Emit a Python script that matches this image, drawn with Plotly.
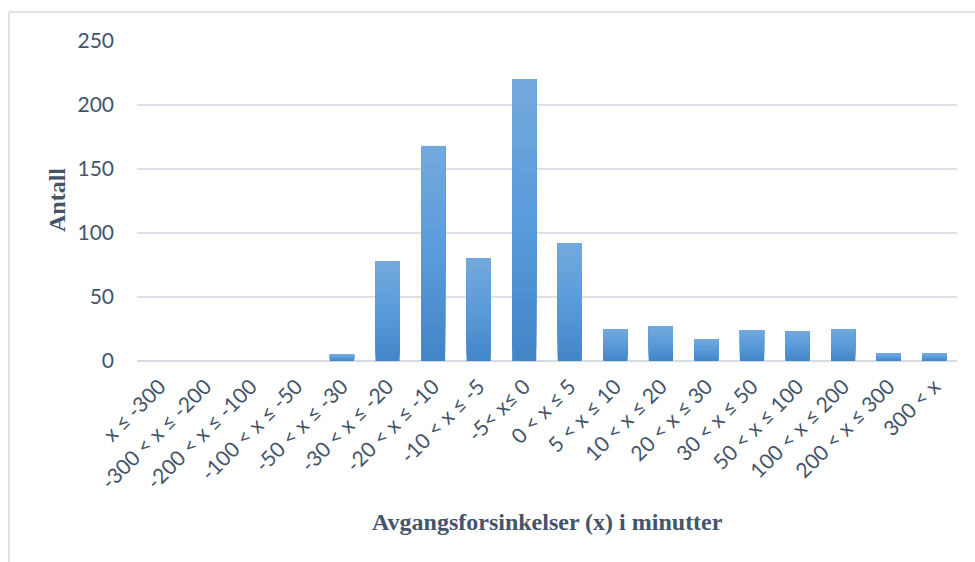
import plotly.graph_objects as go

categories = ["x ≤ -300", "-300 < x ≤ -200", "-200 < x ≤ -100", "-100 < x ≤ -50",
              "-50 < x ≤ -30", "-30 < x ≤ -20", "-20 < x ≤ -10", "-10 < x ≤ -5",
              "-5< x≤ 0", "0 < x ≤ 5", "5 < x ≤ 10", "10 < x ≤ 20", "20 < x ≤ 30",
              "30 < x ≤ 50", "50 < x ≤ 100", "100 < x ≤ 200", "200 < x ≤ 300", "300 < x"]
counts = [0, 0, 0, 0, 5, 78, 168, 80, 220, 92, 25, 27, 17, 24, 23, 25, 6, 6]
y_ticks = [0, 50, 100, 150, 200, 250]

x_title = "Avgangsforsinkelser (x) i minutter"
y_title = "Antall"

W, H = 975, 562
ML, MR, MT, MB = 137, 18, 41, 201
pw, ph = W - ML - MR, H - MT - MB

text_color = "#44546a"
grid_color = "#dde1e6"

# vertical gradient for bars: dark at bottom, light at top
N = 24
c_bot = (0x42, 0x85, 0xc6)
c_mid = (0x5a, 0x9b, 0xdb)
c_top = (0x74, 0xa9, 0xdc)


def lerp(a, b, t):
    return tuple(int(round(a[k] + (b[k] - a[k]) * t)) for k in range(3))


fig = go.Figure()
for i in range(N):
    t = (i + 0.5) / N
    col = lerp(c_bot, c_mid, t / 0.5) if t < 0.5 else lerp(c_mid, c_top, (t - 0.5) / 0.5)
    # each layer spans from its band start up to the full bar top; later layers cover earlier ones
    fig.add_trace(go.Bar(
        x=categories,
        y=[c * (N - i) / N for c in counts],
        base=[c * i / N for c in counts],
        marker=dict(color="rgb(%d,%d,%d)" % col, line=dict(width=0)),
        hoverinfo="skip" if i else None,
    ))

fig.update_layout(
    width=W, height=H,
    margin=dict(l=ML, r=MR, t=MT, b=MB),
    paper_bgcolor="white", plot_bgcolor="white",
    bargap=0.47, barmode="overlay", showlegend=False,
    font=dict(family="Lato, Open Sans, sans-serif", color=text_color, size=21),
)
fig.update_xaxes(
    tickangle=-45, showgrid=False, showline=False,
    ticks="outside", ticklen=4, tickcolor="rgba(0,0,0,0)",
    tickfont=dict(size=21, color=text_color),
)
fig.update_yaxes(
    range=[0, 250], tickvals=y_ticks, showgrid=True, gridcolor=grid_color,
    gridwidth=1.5, zeroline=True, zerolinecolor="#d6dbe1", zerolinewidth=2,
    showline=False, ticklabelstandoff=22,
    tickfont=dict(size=21, color=text_color),
)

# axis titles
fig.add_annotation(text="<b>" + x_title + "</b>", xref="paper", yref="paper",
                   x=0.5, y=-(522 - MT - ph) / ph, showarrow=False,
                   font=dict(family="Liberation Serif, serif", size=24, color=text_color),
                   xanchor="center", yanchor="middle")
fig.add_annotation(text="<b>" + y_title + "</b>", xref="paper", yref="paper",
                   x=(57 - ML) / pw, y=(MT + ph - 200) / ph, showarrow=False, textangle=-90,
                   font=dict(family="Liberation Serif, serif", size=24, color=text_color),
                   xanchor="center", yanchor="middle")

# chart border (top and left)
bx = (9 - ML) / pw
by = 1 + (MT - 12) / ph
fig.add_shape(type="line", xref="paper", yref="paper", x0=bx, x1=(W - ML) / pw, y0=by, y1=by,
              line=dict(color="#d9d9d9", width=1.5))
fig.add_shape(type="line", xref="paper", yref="paper", x0=bx, x1=bx, y0=by, y1=-(H - MT - ph) / ph - 0.01,
              line=dict(color="#d9d9d9", width=1.5))

fig.write_html("out.html", config={"displayModeBar": False},
               post_script="document.body.style.margin='0px';")
